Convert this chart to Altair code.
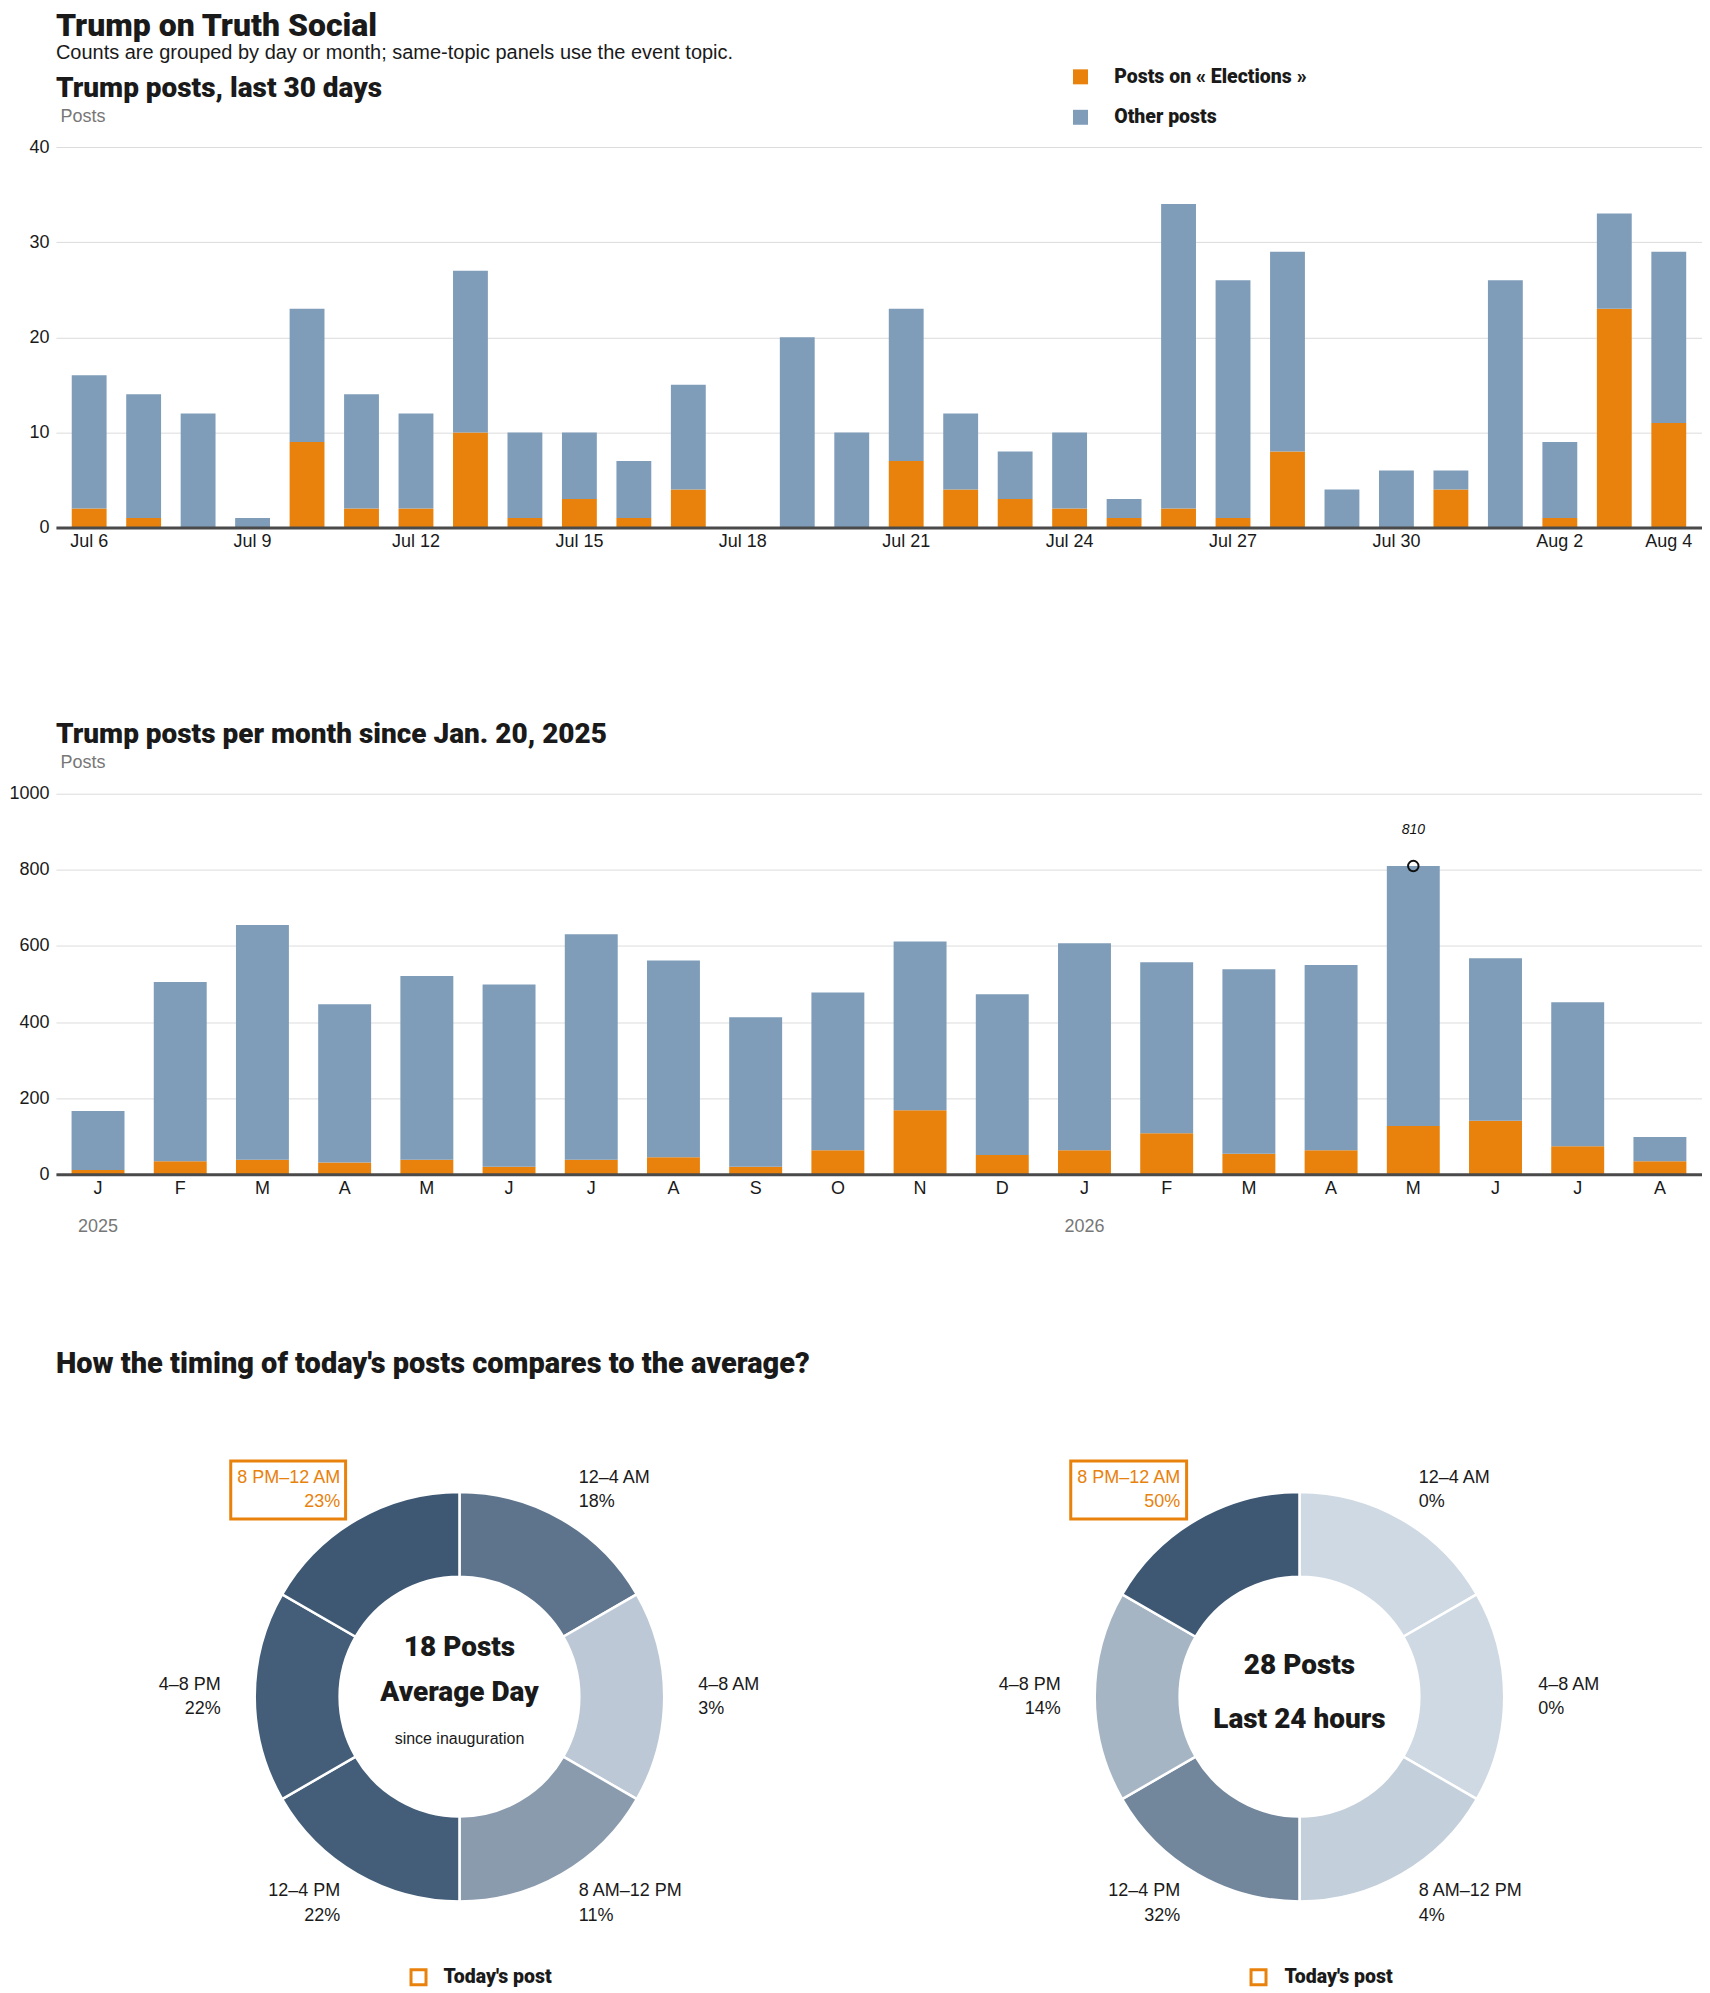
import altair as alt
import pandas as pd

FONT = "Liberation Sans, Arial, Helvetica, sans-serif"
HEAD = "Roboto, Liberation Sans, Arial, sans-serif"
HEAVY = 900
ORANGE = "#e8820c"
BLUE = "#7f9db9"
INK = "#1a1a1a"
GREY = "#777777"
GRID = "#dcdcdc"
LIGHT = "#cfd9e3"
DARK = "#3e5874"

main_title = "Trump on Truth Social"
main_subtitle = "Counts are grouped by day or month; same-topic panels use the event topic."
title_days = "Trump posts, last 30 days"
title_months = "Trump posts per month since Jan. 20, 2025"
title_timing = "How the timing of today's posts compares to the average?"
series_names = ["Posts on « Elections »", "Other posts"]

# ---- last 30 days ----
days = ["Jul 6", "Jul 7", "Jul 8", "Jul 9", "Jul 10", "Jul 11", "Jul 12", "Jul 13",
        "Jul 14", "Jul 15", "Jul 16", "Jul 17", "Jul 18", "Jul 19", "Jul 20", "Jul 21",
        "Jul 22", "Jul 23", "Jul 24", "Jul 25", "Jul 26", "Jul 27", "Jul 28", "Jul 29",
        "Jul 30", "Jul 31", "Aug 1", "Aug 2", "Aug 3", "Aug 4"]
day_total = [16, 14, 12, 1, 23, 14, 12, 27, 10, 10, 7, 15, 0, 20, 10, 23,
             12, 8, 10, 3, 34, 26, 29, 4, 6, 6, 26, 9, 33, 29]
day_elections = [2, 1, 0, 0, 9, 2, 2, 10, 1, 3, 1, 4, 0, 0, 0, 7,
                 4, 3, 2, 1, 2, 1, 8, 0, 0, 4, 0, 1, 23, 11]
day_ticks = ["Jul 6", "Jul 9", "Jul 12", "Jul 15", "Jul 18", "Jul 21", "Jul 24",
             "Jul 27", "Jul 30", "Aug 2", "Aug 4"]
day_yticks = [0, 10, 20, 30, 40]

# ---- per month ----
month_keys = ["2025-01", "2025-02", "2025-03", "2025-04", "2025-05", "2025-06", "2025-07",
              "2025-08", "2025-09", "2025-10", "2025-11", "2025-12", "2026-01", "2026-02",
              "2026-03", "2026-04", "2026-05", "2026-06", "2026-07", "2026-08"]
month_letters = ["J", "F", "M", "A", "M", "J", "J", "A", "S", "O", "N", "D",
                 "J", "F", "M", "A", "M", "J", "J", "A"]
month_total = [166, 505, 655, 447, 521, 499, 631, 562, 413, 478, 612, 473,
               607, 557, 539, 550, 810, 568, 452, 98]
month_elections = [11, 34, 38, 31, 38, 20, 38, 45, 20, 63, 168, 51,
                   63, 108, 54, 63, 127, 141, 74, 34]
month_yticks = [0, 200, 400, 600, 800, 1000]
year_labels = ["2025", "2026"]
year_keys = ["2025-01", "2026-01"]

# ---- timing donuts ----
slots = ["12–4 AM", "4–8 AM", "8 AM–12 PM", "12–4 PM", "4–8 PM", "8 PM–12 AM"]
avg_pct = [18, 3, 11, 22, 22, 23]
today_pct = [0, 0, 4, 32, 14, 50]
today_slot = "8 PM–12 AM"
avg_posts = 18
today_posts = 28


def long_table(keys, totals, elections, keyname):
    rows = []
    for k, t, e in zip(keys, totals, elections):
        rows.append({keyname: k, "series": series_names[0], "posts": e, "rank": 0})
        rows.append({keyname: k, "series": series_names[1], "posts": t - e, "rank": 1})
    return pd.DataFrame(rows)


def legend(y):
    return alt.Legend(title=None, orient="none", legendX=1016, legendY=y, direction="vertical",
                      symbolType="square", symbolSize=225, symbolStrokeWidth=0,
                      labelFont=HEAD, labelFontSize=19.5, labelFontWeight=HEAVY, labelColor=INK,
                      labelOffset=24, rowPadding=19.5, labelLimit=500, padding=0)


def y_axis(values):
    return alt.Axis(values=values, format="d", title="Posts", titleAngle=0, titleAlign="left",
                    titleBaseline="middle", titleX=4, titleY=-31, titleColor=GREY,
                    titleFontSize=18, titleFontWeight="normal", titleFont=FONT,
                    labelFont=FONT, labelFontSize=18, labelColor=INK, labelPadding=7,
                    ticks=False, domain=False, grid=True, gridColor=GRID, gridWidth=1,
                    minExtent=48, maxExtent=48)


def x_axis(values=None, label_expr=None):
    kw = dict(title=None, labelAngle=0, ticks=False, grid=False, domainColor="#4a4a4a",
              domainWidth=3, labelFont=FONT, labelFontSize=18, labelColor=INK,
              labelPadding=5, zindex=1, labelOverlap=False)
    if values is not None:
        kw["values"] = values
    if label_expr is not None:
        kw["labelExpr"] = label_expr
    return alt.Axis(**kw)


def label(text, y, size, weight=HEAVY, baseline="middle", x=0, color=INK, align="left", font=HEAD):
    return alt.Chart(pd.DataFrame({"t": [text]})).mark_text(
        fontSize=size, fontWeight=weight, font=font, color=color, baseline=baseline,
        align=align).encode(x=alt.value(x), y=alt.value(y), text="t:N")


color_enc = lambda y: alt.Color("series:N", scale=alt.Scale(domain=series_names, range=[ORANGE, BLUE]),
                                legend=legend(y))

# ---------- chart 1 ----------
day_df = long_table(days, day_total, day_elections, "day")
bars1 = alt.Chart(day_df).mark_bar().encode(
    x=alt.X("day:N", sort=days, scale=alt.Scale(paddingInner=0.36, paddingOuter=0.29),
            axis=x_axis(values=day_ticks)),
    y=alt.Y("posts:Q", stack="zero", scale=alt.Scale(domain=[0, 40], nice=False),
            axis=y_axis(day_yticks)),
    color=color_enc(-80),
    order=alt.Order("rank:Q", sort="ascending"),
)
c1 = alt.layer(
    bars1,
    label(main_title, -136.5, 32, baseline="top"),
    label(main_subtitle, -94, 20, weight="normal", font=FONT),
    label(title_days, -58, 28),
).properties(width=1648, height=381)

# ---------- chart 2 ----------
month_df = long_table(month_keys, month_total, month_elections, "month")
label_expr = "[" + ",".join(f"'{m}'" for m in month_letters) + "][indexof([" + \
    ",".join(f"'{k}'" for k in month_keys) + "], datum.value)]"
mx = alt.X("month:N", sort=month_keys, scale=alt.Scale(paddingInner=0.356, paddingOuter=0.19),
           axis=x_axis(label_expr=label_expr))
bars2 = alt.Chart(month_df).mark_bar().encode(
    x=mx,
    y=alt.Y("posts:Q", stack="zero", scale=alt.Scale(domain=[0, 1000], nice=False),
            axis=y_axis(month_yticks)),
    color=color_enc(-81),
    order=alt.Order("rank:Q", sort="ascending"),
)
peak_i = month_total.index(max(month_total))
peak_df = pd.DataFrame({"month": [month_keys[peak_i]], "total": [month_total[peak_i]],
                        "label": [str(month_total[peak_i])]})
peak_pt = alt.Chart(peak_df).mark_point(shape="circle", filled=False, color="#111",
                                        strokeWidth=2, size=110, opacity=1).encode(
    x=alt.X("month:N", sort=month_keys), y=alt.Y("total:Q"))
peak_tx = alt.Chart(peak_df).mark_text(dy=-36, fontStyle="italic", fontSize=14, font=FONT,
                                       color="#111").encode(
    x=alt.X("month:N", sort=month_keys), y=alt.Y("total:Q"), text="label:N")
years_df = pd.DataFrame({"month": year_keys, "year": year_labels})
years_tx = alt.Chart(years_df).mark_text(fontSize=18, font=FONT, color=GREY, baseline="middle").encode(
    x=alt.X("month:N", sort=month_keys), y=alt.value(434), text="year:N")
c2 = alt.layer(bars2, peak_pt, peak_tx, years_tx,
               label(title_months, -59, 28)).properties(width=1648, height=381)

# ---------- chart 3 ----------
CY = 276


def donut(pcts, cx, center_lines):
    df = pd.DataFrame({"slot": slots, "idx": list(range(len(slots))), "share": 1, "pct": pcts})
    labels = [f"{s}\n{p}%" for s, p in zip(slots, pcts)]
    df["right"] = [lab if i < 3 else "" for i, lab in enumerate(labels)]
    df["left"] = [lab if i >= 3 else "" for i, lab in enumerate(labels)]
    df["today"] = [s == today_slot for s in slots]
    base = alt.Chart(df)
    theta = alt.Theta("share:Q", stack=True)
    order = alt.Order("idx:Q", sort="ascending")
    arcs = base.mark_arc(innerRadius=120, outerRadius=205, stroke="white", strokeWidth=2.5).encode(
        theta=theta, order=order, x=alt.value(cx), y=alt.value(CY),
        color=alt.Color("pct:Q", scale=alt.Scale(domain=[0, max(pcts)], range=[LIGHT, DARK],
                                                 interpolate="rgb"), legend=None))
    tcol = alt.condition("datum.today", alt.value(ORANGE), alt.value(INK))
    right = base.mark_text(radius=239, align="left", baseline="middle", lineBreak="\n",
                           lineHeight=24.5, fontSize=18, font=FONT, dy=-12).encode(
        theta=theta, order=order, x=alt.value(cx), y=alt.value(CY), text="right:N", color=tcol)
    left = base.mark_text(radius=239, align="right", baseline="middle", lineBreak="\n",
                          lineHeight=24.5, fontSize=18, font=FONT, dy=-12).encode(
        theta=theta, order=order, x=alt.value(cx), y=alt.value(CY), text="left:N", color=tcol)
    layers = [arcs, right, left]
    for text, y, size, weight, font in center_lines:
        layers.append(label(text, y, size, weight=weight, x=cx, align="center", font=font))
    return layers


one = pd.DataFrame({"k": [0]})


def highlight_box(x0, x1):
    return alt.Chart(one).mark_rect(fillOpacity=0, stroke=ORANGE, strokeWidth=3).encode(
        x=alt.value(x0), x2=alt.value(x1), y=alt.value(40), y2=alt.value(98))


def today_key(xs, xt):
    sq = alt.Chart(one).mark_point(shape="square", filled=False, color=ORANGE, strokeWidth=3,
                                   size=225, opacity=1).encode(x=alt.value(xs), y=alt.value(557))
    return [sq, label("Today's post", 557, 19.5, x=xt)]


D1X, D2X = 404, 1245
d1 = donut(avg_pct, D1X, [(f"{avg_posts} Posts", 227, 28, HEAVY, HEAD),
                          ("Average Day", 272.5, 28, HEAVY, HEAD),
                          ("since inauguration", 318.5, 16, "normal", FONT)])
d2 = donut(today_pct, D2X, [(f"{today_posts} Posts", 245.5, 28, HEAVY, HEAD),
                            ("Last 24 hours", 299, 28, HEAVY, HEAD)])
c3 = alt.layer(*d1, *d2, highlight_box(175, 290), highlight_box(1016, 1132),
               *today_key(363, 388), *today_key(1204, 1230),
               label(title_timing, -57, 29)).resolve_scale(
    color="independent").properties(width=1648, height=560)

inner = alt.vconcat(c1, c2, spacing=170.5)
chart = alt.vconcat(inner, c3, spacing=113.5).properties(padding=0).configure(
    font=FONT, background="white").configure_view(strokeWidth=0, stroke="transparent")

chart.save("out.html", embed_options={"renderer": "svg", "actions": False})
